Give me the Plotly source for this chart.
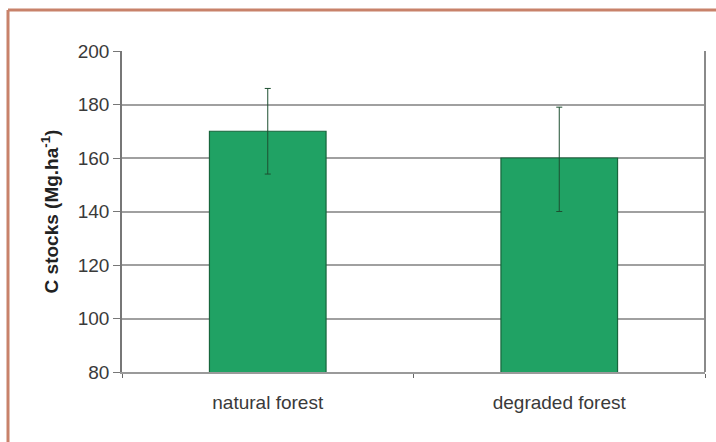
import plotly.graph_objects as go

categories = ["natural forest", "degraded forest"]
c_stocks = [170, 160]
err_plus = [16, 19]
err_minus = [16, 20]
y_ticks = [80, 100, 120, 140, 160, 180, 200]

fig = go.Figure()
fig.add_trace(go.Bar(
    x=categories, y=c_stocks,
    marker=dict(color="#20a264", line=dict(color="#17663c", width=1.2)),
    error_y=dict(type="data", symmetric=False, array=err_plus, arrayminus=err_minus,
                 color="#1d4f30", thickness=1, width=3),
    width=0.4,
))

W, H = 716, 442
l, r, t, b = 122, 11, 51, 70
pw, ph = W - l - r, H - t - b
bx = (8 - l) / pw
by = (H - b - 10) / ph

fig.update_layout(
    width=W, height=H,
    margin=dict(l=l, r=r, t=t, b=b),
    paper_bgcolor="white", plot_bgcolor="white",
    showlegend=False,
    font=dict(family="Liberation Sans, Arial", size=19, color="#333333"),
    xaxis=dict(showline=True, linecolor="#9a9a9a", linewidth=2, mirror=False,
               ticks="outside", tickson="boundaries", ticklen=4, tickcolor="#666666",
               ticklabelstandoff=12,
               tickfont=dict(size=19, color="#3a3a3a"), showgrid=False),
    yaxis=dict(range=[80, 200], tickvals=y_ticks, showline=True, linecolor="#777777",
               linewidth=1.5, ticks="outside", ticklen=7, tickcolor="#777777",
               showgrid=True, gridcolor="#a0a0a0", gridwidth=2, zeroline=False,
               tickfont=dict(size=19, color="#3a3a3a"),
               title=dict(text="<b>C stocks (Mg.ha<sup>-1</sup>)</b>", standoff=14,
                          font=dict(size=19, color="#222222"))),
    shapes=[
        dict(type="line", xref="paper", yref="paper", x0=1, x1=1, y0=0, y1=1,
             line=dict(color="#8a8a8a", width=2)),
        dict(type="line", xref="paper", yref="paper", x0=bx, x1=1.1, y0=by, y1=by,
             line=dict(color="#c8826a", width=3)),
        dict(type="line", xref="paper", yref="paper", x0=bx, x1=bx, y0=by, y1=-0.3,
             line=dict(color="#c8826a", width=3)),
    ],
)
fig.write_html("out.html", config={"displayModeBar": False},
               post_script="document.body.style.margin='0';document.body.style.overflow='hidden';")
